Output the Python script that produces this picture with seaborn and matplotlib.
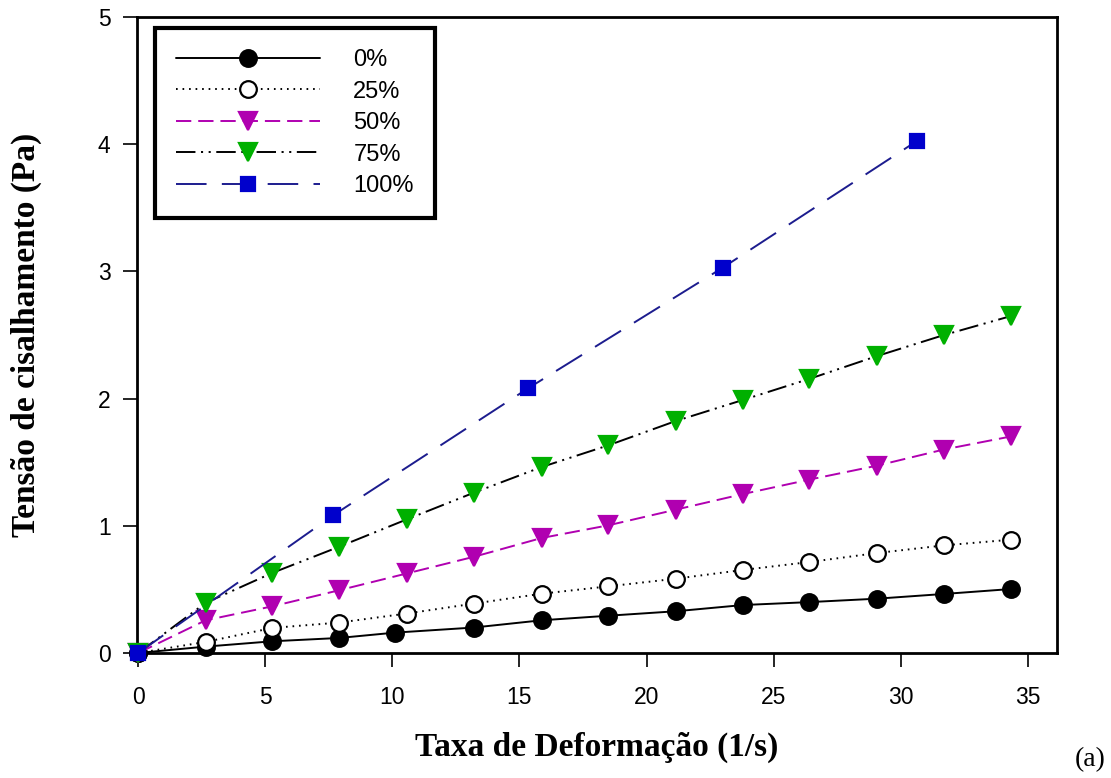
import numpy as np
import pandas as pd
import seaborn as sns
import matplotlib.pyplot as plt

# shear rate (1/s) and shear stress (Pa)
x_0 = [0, 2.65, 5.28, 7.9, 10.1, 13.2, 15.87, 18.5, 21.15, 23.8, 26.4, 29.07, 31.7, 34.35]
y_0 = [0, 0.05, 0.092, 0.118, 0.16, 0.20, 0.257, 0.293, 0.328, 0.377, 0.40, 0.427, 0.464, 0.503]

x_25 = [0, 2.65, 5.28, 7.9, 10.56, 13.2, 15.87, 18.5, 21.15, 23.8, 26.4, 29.07, 31.7, 34.35]
y_25 = [0, 0.087, 0.197, 0.239, 0.31, 0.388, 0.466, 0.524, 0.584, 0.653, 0.715, 0.786, 0.846, 0.891]

x_50 = [0, 2.65, 5.28, 7.9, 10.56, 13.2, 15.87, 18.5, 21.15, 23.8, 26.4, 29.07, 31.7, 34.35]
y_50 = [0, 0.257, 0.367, 0.493, 0.625, 0.756, 0.904, 1.004, 1.127, 1.25, 1.363, 1.473, 1.60, 1.703]

x_75 = [0, 2.65, 5.28, 7.9, 10.56, 13.2, 15.87, 18.5, 21.15, 23.8, 26.4, 29.07, 31.7, 34.35]
y_75 = [0, 0.394, 0.63, 0.835, 1.05, 1.26, 1.462, 1.633, 1.824, 1.99, 2.155, 2.335, 2.50, 2.65]

x_100 = [0, 7.68, 15.33, 23.0, 30.63]
y_100 = [0, 1.084, 2.08, 3.03, 4.025]

labels = ['0%', '25%', '50%', '75%', '100%']

sns.set_theme(style='white')
plt.rcParams['font.family'] = ['Liberation Sans', 'DejaVu Sans']
plt.rcParams['lines.scale_dashes'] = False
plt.rcParams['text.color'] = 'black'
plt.rcParams['axes.labelcolor'] = 'black'
plt.rcParams['xtick.color'] = 'black'
plt.rcParams['ytick.color'] = 'black'

fig = plt.figure(figsize=(11.11, 7.78), dpi=100)
ax = fig.add_axes([0.1233, 0.1607, 0.8281, 0.8173])

# (x, y, line colour, linestyle, marker, face, edge, size)
styles = [
    (x_0, y_0, 'black', '-', 'o', 'black', 'black', 12),
    (x_25, y_25, 'black', (0, (1.2, 3.5)), 'o', 'white', 'black', 12),
    (x_50, y_50, '#b000b0', (0, (11, 5)), 'v', '#b000b0', '#b000b0', 13),
    (x_75, y_75, 'black', (0, (14, 4, 1.5, 4, 1.5, 4)), 'v', '#00b000', '#00b000', 13),
    (x_100, y_100, '#1c1c8e', (0, (22, 11)), 's', '#0000cc', '#0000cc', 10),
]

for (xs, ys, lc, ls, mk, fc, ec, ms), lab in zip(styles, labels):
    df = pd.DataFrame({'rate': xs, 'stress': ys})
    sns.lineplot(data=df, x='rate', y='stress', ax=ax, color=lc, linestyle=ls,
                 linewidth=1.4, marker=mk, markerfacecolor=fc, markeredgecolor=ec,
                 markeredgewidth=1.6, markersize=ms, label=lab, errorbar=None,
                 clip_on=False, zorder=3)

ax.set_xlim(-0.05, 36.15)
ax.set_ylim(0, 5)
ax.set_xticks(np.arange(0, 36, 5))
ax.set_yticks(np.arange(0, 6, 1))
ax.tick_params(axis='both', which='major', labelsize=16.5, direction='out',
               length=10, width=1.2, color='black', labelcolor='black',
               bottom=True, left=True)
ax.tick_params(axis='x', pad=14)
ax.tick_params(axis='y', pad=9)

for sp in ax.spines.values():
    sp.set_color('black')
    sp.set_linewidth(2)

ax.set_xlabel('Taxa de Deformação (1/s)', fontsize=24, fontweight='bold',
              family='Liberation Serif', labelpad=16, color='black')
ax.set_ylabel('Tensão de cisalhamento (Pa)', fontsize=24, fontweight='bold',
              family='Liberation Serif', labelpad=40, color='black')

leg = ax.legend(loc='upper left', bbox_to_anchor=(0.0196, 0.983), borderaxespad=0,
                fontsize=17, handlelength=6.1, handletextpad=1.4, labelspacing=0.4,
                numpoints=1, fancybox=False, framealpha=1, edgecolor='black',
                borderpad=0.9)
leg.get_frame().set_linewidth(3)
for t in leg.get_texts():
    t.set_color('black')

fig.text(0.995, 0.008, '(a)', fontsize=20, family='Liberation Serif',
         ha='right', va='bottom', color='black')

fig.savefig('out.png', dpi=100)
